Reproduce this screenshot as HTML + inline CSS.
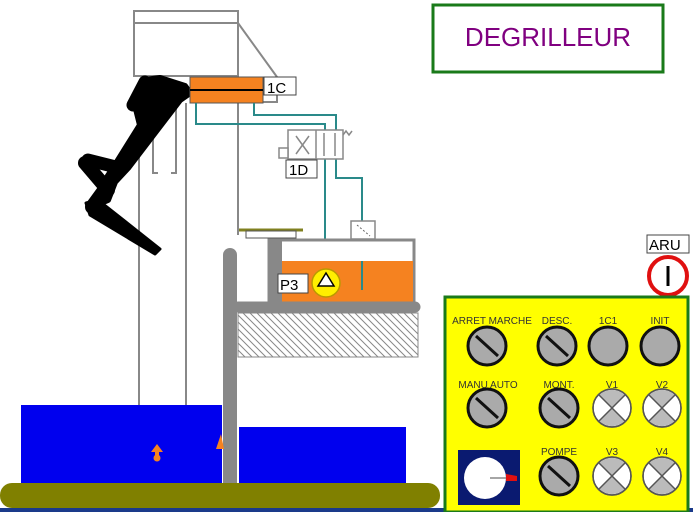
<!DOCTYPE html>
<html><head><meta charset="utf-8"><style>
html,body{margin:0;padding:0;background:#fff}
svg{display:block}
text{font-family:"Liberation Sans",sans-serif}
</style></head><body>
<svg width="693" height="512" viewBox="0 0 693 512" xmlns="http://www.w3.org/2000/svg">
<defs>
<pattern id="h" width="7" height="7" patternUnits="userSpaceOnUse">
<rect width="7" height="7" fill="#fff"/>
<path d="M-1,-1 L8,8 M-1,6 L1,8 M6,-1 L8,1" stroke="#888" stroke-width="1"/>
</pattern>
</defs>
<rect x="433" y="5" width="230" height="67" fill="#fff" stroke="#1a7a1a" stroke-width="3"/>
<text x="548" y="46" font-size="26" fill="#800080" text-anchor="middle">DEGRILLEUR</text>

<g stroke="#888" stroke-width="2" fill="none">
<rect x="134" y="11" width="104" height="65" fill="#fff"/>
<line x1="134" y1="23" x2="238" y2="23"/>
<polyline points="238,23 277,77 277,102 263,102"/>
<line x1="139" y1="103" x2="139" y2="405"/>
<line x1="186" y1="103" x2="186" y2="405"/>
<line x1="238" y1="76" x2="238" y2="235"/>
<polyline points="156,103 153,103 153,173 158,173"/>
<polyline points="172,103 176,103 176,173 171,173"/>
</g>

<g fill="#000" stroke="#000" stroke-linecap="round" stroke-linejoin="round">
<polygon points="145,80 160,78 185,86 190,93 180,100 128,168 115,182 108,200 96,205 102,185 115,165 140,125 135,105" stroke-width="6"/>
<line x1="145" y1="82" x2="133" y2="105" stroke-width="13" fill="none"/>
<line x1="88" y1="160" x2="112" y2="166" stroke-width="13" fill="none"/>
<line x1="85" y1="163" x2="108" y2="190" stroke-width="14" fill="none"/>
<line x1="108" y1="185" x2="92" y2="207" stroke-width="14" fill="none"/>
<polygon points="86,203 98,200 160,249 155,254 90,215" stroke-width="3"/>
</g>

<rect x="190" y="77" width="73" height="26" fill="#f58220" stroke="#555" stroke-width="1"/>
<line x1="190" y1="90" x2="263" y2="90" stroke="#000" stroke-width="2"/>
<rect x="264" y="77" width="32" height="18" fill="#fff" stroke="#444"/>
<text x="267" y="93" font-size="15" fill="#000">1C</text>

<g stroke="#2a8a8a" stroke-width="2" fill="none">
<polyline points="196,103 196,124 325,124 325,272"/>
<polyline points="254,103 254,115 336,115 336,178 362,178 362,221"/>
<line x1="362" y1="239" x2="362" y2="290"/>
<line x1="292" y1="250" x2="325" y2="250"/>
</g>
<polygon points="292,245 303,250 292,255" fill="#2a8a8a"/>
<polygon points="314,245 303,250 314,255" fill="#2a8a8a"/>

<g stroke="#888" stroke-width="1.5" fill="#fff">
<rect x="288" y="130" width="55" height="29"/>
<line x1="316" y1="130" x2="316" y2="159"/>
<rect x="279" y="148" width="9" height="10"/>
<line x1="296" y1="136" x2="309" y2="154"/>
<line x1="309" y1="136" x2="296" y2="154"/>
<line x1="324" y1="133" x2="324" y2="156"/>
<line x1="335" y1="133" x2="335" y2="156"/>
<polyline points="343,135 346,131 349,135 352,131" fill="none"/>
</g>
<rect x="286" y="160" width="31" height="18" fill="#fff" stroke="#444"/>
<text x="289" y="175" font-size="15">1D</text>

<rect x="351" y="221" width="24" height="18" fill="#fff" stroke="#888" stroke-width="1.5"/>
<line x1="357" y1="225" x2="370" y2="236" stroke="#666" stroke-dasharray="2,2"/>

<line x1="239" y1="230" x2="303" y2="230" stroke="#808020" stroke-width="3"/>
<rect x="246" y="231" width="50" height="7" fill="#fff" stroke="#555"/>

<rect x="269" y="240" width="145" height="63" fill="#fff" stroke="#888" stroke-width="3"/>
<rect x="282" y="261" width="131" height="41" fill="#f58220"/>
<rect x="269" y="240" width="13" height="63" fill="#888"/>
<line x1="362" y1="261" x2="362" y2="290" stroke="#2a8a8a" stroke-width="2"/>
<circle cx="326" cy="283" r="14" fill="#ffee00" stroke="#bb9900" stroke-width="1.5"/>
<polygon points="326,273 318,286 334,286" fill="#fff" stroke="#000" stroke-width="1.5"/>
<rect x="278" y="274" width="30" height="19" fill="#fff" stroke="#444"/>
<text x="280" y="290" font-size="15">P3</text>

<rect x="238" y="313" width="180" height="44" fill="url(#h)" stroke="#888"/>
<line x1="238" y1="307" x2="415" y2="307" stroke="#888" stroke-width="11" stroke-linecap="round"/>

<rect x="21" y="405" width="201" height="79" fill="#0000ee"/>
<rect x="239" y="427" width="167" height="57" fill="#0000ee"/>
<line x1="230" y1="255" x2="230" y2="485" stroke="#888" stroke-width="14" stroke-linecap="round"/>
<rect x="0" y="483" width="440" height="25" rx="12" fill="#808000"/>
<rect x="0" y="508" width="693" height="4" fill="#1a3a8a"/>
<polygon points="157,444 151,452 155,452 155,458 159,458 159,452 163,452" fill="#f58220"/>
<circle cx="157" cy="458" r="3.5" fill="#f58220"/>
<polygon points="221,434 216,449 224,449" fill="#f58220"/>

<rect x="647" y="235" width="42" height="18" fill="#fff" stroke="#444"/>
<text x="649" y="250" font-size="15">ARU</text>
<circle cx="668" cy="276" r="19" fill="#fff" stroke="#e01010" stroke-width="4"/>
<line x1="668" y1="266" x2="668" y2="286" stroke="#000" stroke-width="3"/>

<rect x="445" y="297" width="243" height="215" fill="#ffff00" stroke="#1a7a1a" stroke-width="3"/>
<g font-size="10" fill="#333" text-anchor="middle">
<text x="492" y="324">ARRET MARCHE</text>
<text x="557" y="324">DESC.</text>
<text x="608" y="324">1C1</text>
<text x="660" y="324">INIT</text>
<text x="488" y="388">MANU  AUTO</text>
<text x="559" y="388">MONT.</text>
<text x="612" y="388">V1</text>
<text x="662" y="388">V2</text>
<text x="559" y="455">POMPE</text>
<text x="612" y="455">V3</text>
<text x="662" y="455">V4</text>
</g>
<g stroke="#111" stroke-width="3">
<g><circle cx="487" cy="346" r="19" fill="#aaa"/><line x1="476" y1="336" x2="498" y2="356"/></g>
<g><circle cx="557" cy="346" r="19" fill="#aaa"/><line x1="546" y1="336" x2="568" y2="356"/></g>
<circle cx="608" cy="346" r="19" fill="#aaa"/>
<circle cx="660" cy="346" r="19" fill="#aaa"/>
<g><circle cx="487" cy="408" r="19" fill="#aaa"/><line x1="476" y1="398" x2="498" y2="418"/></g>
<g><circle cx="559" cy="408" r="19" fill="#aaa"/><line x1="548" y1="398" x2="570" y2="418"/></g>
<g><circle cx="559" cy="476" r="19" fill="#aaa"/><line x1="548" y1="466" x2="570" y2="486"/></g>
</g>
<g stroke="#555" stroke-width="1.5">
<g transform="translate(612,408)"><circle r="19" fill="#fff"/><path d="M-13,-13 A19,19 0 0 1 13,-13 L0,0Z M-13,13 A19,19 0 0 0 13,13 L0,0Z" fill="#bbb" stroke="none"/><line x1="-13" y1="-13" x2="13" y2="13"/><line x1="13" y1="-13" x2="-13" y2="13"/><circle r="19" fill="none"/></g>
<g transform="translate(662,408)"><circle r="19" fill="#fff"/><path d="M-13,-13 A19,19 0 0 1 13,-13 L0,0Z M-13,13 A19,19 0 0 0 13,13 L0,0Z" fill="#bbb" stroke="none"/><line x1="-13" y1="-13" x2="13" y2="13"/><line x1="13" y1="-13" x2="-13" y2="13"/><circle r="19" fill="none"/></g>
<g transform="translate(612,476)"><circle r="19" fill="#fff"/><path d="M-13,-13 A19,19 0 0 1 13,-13 L0,0Z M-13,13 A19,19 0 0 0 13,13 L0,0Z" fill="#bbb" stroke="none"/><line x1="-13" y1="-13" x2="13" y2="13"/><line x1="13" y1="-13" x2="-13" y2="13"/><circle r="19" fill="none"/></g>
<g transform="translate(662,476)"><circle r="19" fill="#fff"/><path d="M-13,-13 A19,19 0 0 1 13,-13 L0,0Z M-13,13 A19,19 0 0 0 13,13 L0,0Z" fill="#bbb" stroke="none"/><line x1="-13" y1="-13" x2="13" y2="13"/><line x1="13" y1="-13" x2="-13" y2="13"/><circle r="19" fill="none"/></g>
</g>
<rect x="458" y="450" width="62" height="55" fill="#0a1a70"/>
<circle cx="485" cy="478" r="21" fill="#fff"/>
<line x1="490" y1="478" x2="508" y2="478" stroke="#888" stroke-width="1.5"/>
<polygon points="506,474 517,476 517,481 506,481" fill="#e01010"/>
</svg>
</body></html>
